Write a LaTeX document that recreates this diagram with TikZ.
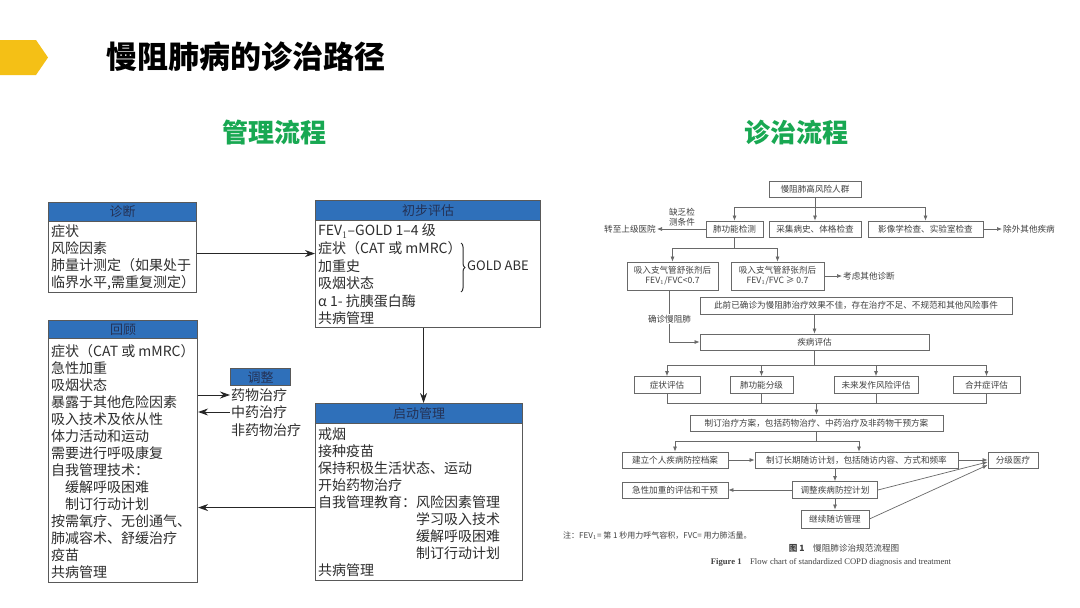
\documentclass[tikz,border=0pt]{standalone}
\usepackage{fontspec}
\setmainfont{Noto Sans CJK SC}
\newfontfamily\serif{Liberation Serif}
\usetikzlibrary{arrows.meta, decorations.pathreplacing}

\definecolor{hdblue}{RGB}{47,112,186}
\definecolor{hdtext}{RGB}{36,50,86}
\definecolor{titgreen}{RGB}{24,168,82}
\definecolor{chev}{RGB}{244,192,22}
\definecolor{bodytxt}{RGB}{45,45,45}
\definecolor{flowline}{RGB}{105,105,105}

\begin{document}
\begin{tikzpicture}[x=1pt, y=-1pt,
    % Define the styles for the left boxes
    lbox/.style={draw=black!65, line width=1.1pt, fill=white, anchor=north west, inner sep=0pt},
    lhead/.style={draw=black!65, line width=1.1pt, fill=hdblue, text=hdtext, anchor=north west,
        minimum height=19pt, inner sep=0pt, font=\fontsize{13}{15}\selectfont},
    ltext/.style={anchor=north west, inner sep=0pt, align=left, text=bodytxt, font=\fontsize{14}{17}\selectfont},
    larrow/.style={-{Stealth[length=10pt,width=7pt]}, line width=0.9pt, black!85},
    % Define the styles for the flow chart
    fbox/.style={draw=flowline, line width=0.8pt, fill=white, inner sep=1pt, minimum height=16pt,
        text=black!75, font=\fontsize{8.6}{10}\selectfont},
    ftext/.style={inner sep=1pt, text=black!75, font=\fontsize{8.6}{10}\selectfont},
    fline/.style={draw=flowline, line width=0.7pt},
    farrow/.style={fline, -{Latex[length=5pt,width=4pt]}}
]

% Define the page
\fill[white] (0,0) rectangle (1080,608);
\useasboundingbox (0,0) rectangle (1080,608);

% Title
\fill[chev] (0,40) -- (36,40) -- (48,57.5) -- (36,75) -- (0,75) -- cycle;
\node[font=\fontsize{31}{33}\selectfont\bfseries] (title) at (246,57) {慢阻肺病的诊治路径};
\node[text=titgreen, font=\fontsize{26}{28}\selectfont\bfseries] (gl) at (274,133) {管理流程};
\node[text=titgreen, font=\fontsize{26}{28}\selectfont\bfseries] (zz) at (796,133) {诊治流程};

% Left: the boxes
\node[lbox, minimum width=148pt, minimum height=90pt] (zd) at (48,202) {};
\node[lhead, minimum width=148pt] (zdh) at (48,202) {诊断};
\node[ltext] (zdt) at (51,225) {症状\\风险因素\\肺量计测定（如果处于\\临界水平,需重复测定）};

\node[lbox, minimum width=225pt, minimum height=127pt] (cb) at (315,200) {};
\node[lhead, minimum width=225pt, minimum height=20pt] (cbh) at (315,200) {初步评估};
\node[ltext, font=\fontsize{14}{17.6}\selectfont] (cbt) at (318,224)
    {FEV$_1$–GOLD 1–4 级\\症状（CAT 或 mMRC）\\加重史\\吸烟状态\\α 1- 抗胰蛋白酶\\共病管理};
\coordinate (br1) at (461,243);
\coordinate (br2) at (461,292);
\draw[decorate, decoration={brace, amplitude=4pt}, line width=1pt, bodytxt] (br1) -- (br2);
\node[ltext, anchor=west, font=\fontsize{13}{15}\selectfont] (abe) at (467,266) {GOLD ABE};

\node[lbox, minimum width=149pt, minimum height=262pt] (hg) at (48,320) {};
\node[lhead, minimum width=149pt, minimum height=18pt] (hgh) at (48,320) {回顾};
\node[ltext] (hgt) at (51,344) {症状（CAT 或 mMRC）\\急性加重\\吸烟状态\\暴露于其他危险因素\\吸入技术及依从性\\
    体力活动和运动\\需要进行呼吸康复\\自我管理技术：\\\hspace*{1em}缓解呼吸困难\\\hspace*{1em}制订行动计划\\
    按需氧疗、无创通气、\\肺减容术、舒缓治疗\\疫苗\\共病管理};

\node[lbox, minimum width=207pt, minimum height=177pt] (qd) at (315,403) {};
\node[lhead, minimum width=207pt, minimum height=20pt] (qdh) at (315,403) {启动管理};
\node[ltext] (qdt) at (318,428) {戒烟\\接种疫苗\\保持积极生活状态、运动\\开始药物治疗\\自我管理教育：风险因素管理\\
    \hspace*{7em}学习吸入技术\\\hspace*{7em}缓解呼吸困难\\\hspace*{7em}制订行动计划\\共病管理};

\node[lhead, minimum width=60pt, minimum height=17pt] (tzh) at (230,368) {调整};
\node[ltext, anchor=west, inner sep=1pt] (t1) at (230,395) {药物治疗};
\node[ltext, anchor=west, inner sep=1pt] (t2) at (230,412) {中药治疗};
\node[ltext, anchor=west, inner sep=1pt] (t3) at (230,430) {非药物治疗};

% Left: the arrows
\draw[larrow] ([yshift=-6pt]zd.east) -- ([yshift=10.5pt]cb.west);
\draw[larrow] ([xshift=-4.5pt]cb.south) -- ([xshift=4.5pt]qd.north);
\draw[larrow] ([yshift=-15.5pt]qd.west) -- ([yshift=-56pt]hg.east);
\draw[larrow] (t1.west -| hg.east) -- (t1.west);
\draw[larrow] (t2.west) -- (t2.west -| hg.east);

% Right: the flow chart boxes
\node[fbox, minimum width=92pt] (gw) at (815,189) {慢阻肺高风险人群};
\node[fbox, minimum width=57pt] (fg) at (734.5,229) {肺功能检测};
\node[fbox, minimum width=92pt] (bs) at (815,229) {采集病史、体格检查};
\node[fbox, minimum width=115pt] (yx) at (925.5,229) {影像学检查、实验室检查};
\node[ftext, anchor=west] (cw) at (1002,229) {除外其他疾病};
\node[ftext, anchor=east] (zs) at (657,229) {转至上级医院};
\node[ftext, align=center, font=\fontsize{8.6}{10.5}\selectfont] (qf) at (682,217) {缺乏检\\测条件};

\node[fbox, minimum width=91pt, minimum height=28pt, align=center] (r1) at (672.5,276)
    {吸入支气管舒张剂后\\FEV$_1$/FVC<0.7};
\node[fbox, minimum width=93pt, minimum height=28pt, align=center] (r2) at (777.5,276)
    {吸入支气管舒张剂后\\FEV$_1$/FVC ≥ 0.7};
\node[ftext, anchor=west] (qt) at (842,276) {考虑其他诊断};
\node[fbox, minimum width=312pt, minimum height=17pt] (cq) at (856,305.5)
    {此前已确诊为慢阻肺治疗效果不佳，存在治疗不足、不规范和其他风险事件};
\node[fbox, minimum width=229pt] (jb) at (814.5,342) {疾病评估};

\node[fbox, minimum width=66pt, minimum height=17pt] (e1) at (667,385) {症状评估};
\node[fbox, minimum width=63pt, minimum height=17pt] (e2) at (761.5,385) {肺功能分级};
\node[fbox, minimum width=84pt, minimum height=17pt] (e3) at (876,385) {未来发作风险评估};
\node[fbox, minimum width=67pt, minimum height=17pt] (e4) at (986.5,385) {合并症评估};

\node[fbox, minimum width=253pt] (zl) at (816.5,423) {制订治疗方案，包括药物治疗、中药治疗及非药物干预方案};
\node[fbox, minimum width=106pt] (da) at (675,460) {建立个人疾病防控档案};
\node[fbox, minimum width=203pt] (sf) at (856.5,460) {制订长期随访计划，包括随访内容、方式和频率};
\node[fbox, minimum width=50pt] (fj) at (1013,460) {分级医疗};
\node[fbox, minimum width=106pt] (jx) at (675,490) {急性加重的评估和干预};
\node[fbox, minimum width=85pt, minimum height=17pt] (tz) at (835,490) {调整疾病防控计划};
\node[fbox, minimum width=68pt, minimum height=18pt] (sg) at (835,519) {继续随访管理};

% Right: the fork points
\coordinate (m1) at (815,207);
\coordinate (m2) at (734.5,248);
\coordinate (m4) at (814.5,365);
\coordinate (m3) at (816.5,403);
\coordinate (m5) at (816.5,441);

% Right: the connectors
\draw[fline] (gw.south) -- (m1);
\draw[farrow] (m1) -| (fg.north);
\draw[farrow] (m1) -- (bs.north);
\draw[farrow] (m1) -| (yx.north);
\draw[farrow] (fg.west) -- (zs.east);
\draw[farrow] (yx.east) -- (cw.west);
\draw[fline] (fg.south) -- (m2);
\draw[farrow] (m2) -| (r1.north);
\draw[farrow] (m2) -| (r2.north);
\draw[farrow] (r2.east) -- (qt.west);
\draw[farrow] ([xshift=-3pt]r1.south) -- node[ftext, fill=white, pos=0.55] {确诊慢阻肺}
    ([xshift=-3pt]r1.south |- jb.west) -- (jb.west);
\draw[farrow] (jb.north |- cq.south) -- (jb.north);
\draw[fline] (jb.south) -- (m4);
\foreach \e in {e1,e2,e3,e4} {
    \draw[farrow] (m4) -| (\e.north);
}
\draw[fline] (e1.south) |- (e4.south |- m3) -- (e4.south);
\draw[fline] (e2.south) -- (e2.south |- m3);
\draw[fline] (e3.south) -- (e3.south |- m3);
\draw[farrow] (m3) -- (zl.north);
\draw[fline] (zl.south) -- (m5);
\draw[farrow] (m5) -| (da.north);
\draw[farrow] (m5) -| ([xshift=2.5pt]sf.north);
\draw[farrow] (da.east) -- (sf.west);
\draw[farrow] (sf.east) -- (fj.west);
\draw[farrow] (tz.north |- sf.south) -- (tz.north);
\draw[farrow] (tz.west) -- (jx.east);
\draw[farrow] (tz.south) -- (sg.north);
\draw[farrow] (tz.east) -- ([yshift=-2pt]fj.west);
\draw[farrow] (sg.east) -- ([yshift=-5pt]fj.west);

% Notes and caption
\node[ftext, anchor=west, font=\fontsize{8}{9}\selectfont] (zhu) at (562,536)
    {注：FEV$_1$= 第 1 秒用力呼气容积，FVC= 用力肺活量。};
\node[ftext, font=\fontsize{8.6}{10}\selectfont] (tu) at (844,548) {\textbf{图 1}\quad 慢阻肺诊治规范流程图};
\node[ftext, font=\serif\fontsize{8.6}{10}\selectfont] (fig) at (831,562)
    {\textbf{Figure 1}\quad Flow chart of standardized COPD diagnosis and treatment};

\end{tikzpicture}
\end{document}
